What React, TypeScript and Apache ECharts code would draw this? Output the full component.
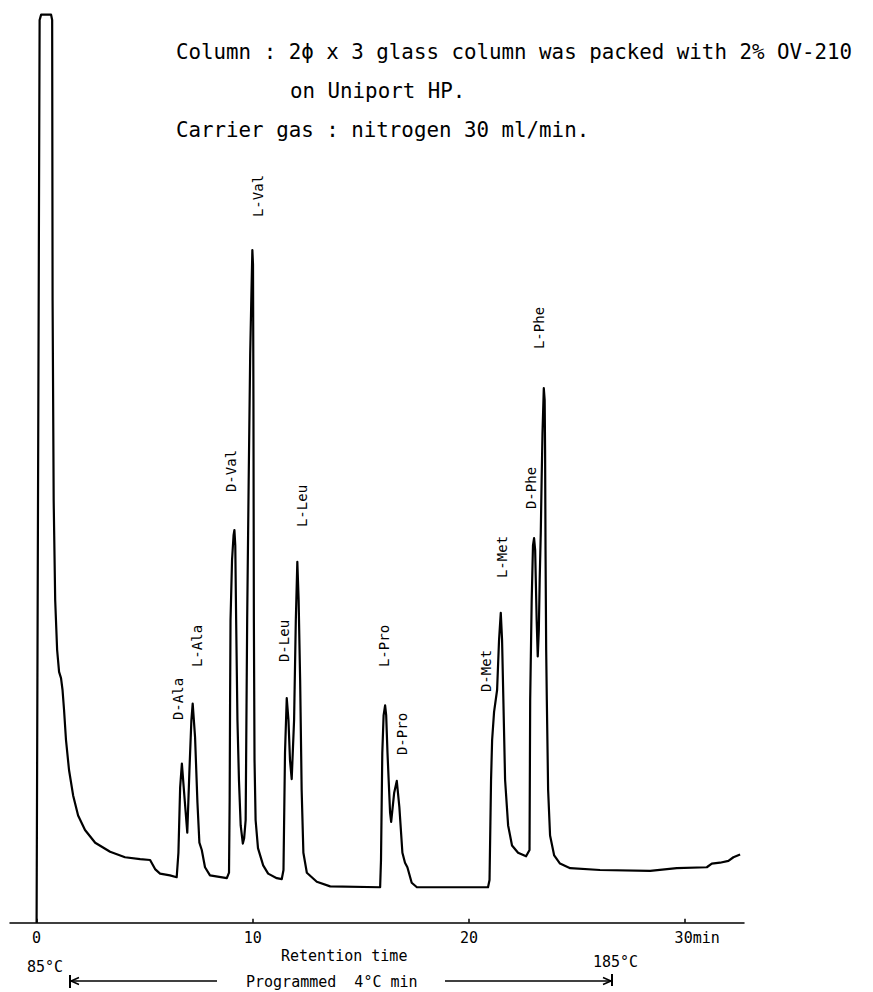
import React, { useEffect, useRef } from "react";
import * as echarts from "echarts";

// Retention time (min) and detector response (% of full scale)
const retentionTime = [
  0.0, 0.14, 0.21, 0.67, 0.72, 0.74, 0.79, 0.86, 0.95, 1.04, 1.13, 1.2, 1.27, 1.36, 1.5, 1.69, 1.92,
  2.24, 2.71, 3.4, 4.09, 4.79, 5.25, 5.48, 5.71, 6.17, 6.48, 6.56, 6.64, 6.72, 6.84, 6.95, 6.97,
  7.07, 7.16, 7.22, 7.33, 7.44, 7.53, 7.64, 7.79, 8.02, 8.8, 8.9, 8.93, 8.95, 8.97, 9.04, 9.11,
  9.15, 9.19, 9.23, 9.29, 9.36, 9.44, 9.54, 9.6, 9.67, 9.74, 9.81, 9.88, 9.94, 9.98, 10.01, 10.03,
  10.05, 10.08, 10.13, 10.24, 10.48, 10.71, 11.11, 11.34, 11.42, 11.49, 11.57, 11.65, 11.72, 11.8,
  11.91, 11.99, 12.06, 12.12, 12.19, 12.26, 12.34, 12.5, 12.96, 13.58, 15.89, 15.93, 15.99, 16.05,
  16.12, 16.17, 16.23, 16.35, 16.4, 16.54, 16.66, 16.78, 16.92, 17.04, 17.15, 17.35, 17.59, 19.13,
  20.88, 20.95, 21.02, 21.07, 21.16, 21.3, 21.39, 21.47, 21.53, 21.59, 21.67, 21.81, 21.99, 22.27,
  22.64, 22.8, 22.83, 22.9, 22.96, 23.01, 23.06, 23.13, 23.18, 23.23, 23.27, 23.32, 23.36, 23.4,
  23.46, 23.5, 23.52, 23.54, 23.57, 23.6, 23.66, 23.75, 23.94, 24.21, 24.68, 26.06, 28.38, 29.61,
  31.0, 31.23, 31.61, 32.0, 32.23, 32.54,
];
const detectorSignal = [
  0, 99.3, 99.9, 99.9, 99.3, 68.5, 46.5, 35.5, 30.0, 27.6, 26.9, 25.6, 23.4, 20.1, 16.8, 14.0, 11.8,
  10.2, 8.8, 7.8, 7.2, 7.0, 6.9, 5.9, 5.4, 5.2, 5.0, 7.7, 14.9, 17.5, 13.8, 10.5, 9.9,
  16.8, 22.3, 24.1, 20.4, 13.2, 8.8, 8.0, 6.1, 5.2, 4.9, 5.5, 13.5, 24.5, 33.3, 39.9, 42.6,
  43.2, 41.5, 33.3, 22.3, 15.7, 10.7, 8.7, 9.3, 11.3, 33.3, 48.7, 62.6, 69.6, 74.0, 72.4, 57.5,
  33.3, 17.9, 11.3, 8.2, 6.3, 5.4, 4.9, 4.8, 5.8, 18.7, 24.7, 22.3, 17.9, 15.8,
  22.3, 33.3, 39.7, 35.5, 26.7, 14.6, 7.7, 5.5, 4.5, 4.0, 3.9, 6.9, 18.7, 22.8,
  23.9, 22.8, 18.7, 12.1, 11.1, 14.3, 15.6, 12.7, 7.7, 6.6, 6.1, 4.4, 3.9, 3.9,
  3.9, 4.7, 15.7, 20.1, 23.2, 25.6, 31.1, 34.1, 31.1, 24.5, 15.7, 10.7, 8.5, 7.7,
  7.3, 8.0, 24.5, 35.5, 41.5, 42.3, 41.0, 33.3, 29.3, 32.2, 37.7, 42.9, 48.7, 53.9,
  58.8, 57.5, 52.0, 41.0, 30.0, 24.5, 14.6, 9.6, 7.4, 6.5, 6.0, 5.8, 5.7, 6.0,
  6.1, 6.5, 6.6, 6.8, 7.2, 7.5,
];

const timeTicks = [0, 10, 20, 30];
const peakNames = ["D-Ala", "L-Ala", "D-Val", "L-Val", "D-Leu", "L-Leu", "L-Pro", "D-Pro", "D-Met", "L-Met", "D-Phe", "L-Phe"];
const headerLines = [
  "Column : 2\u03d5 x 3 glass column was packed with 2% OV-210",
  "on Uniport HP.",
  "Carrier gas : nitrogen 30 ml/min.",
];
const startTemp = "85°C";
const endTemp = "185°C";
const programText = "Programmed  4°C min";
const axisTitle = "Retention time";

// layout (pixel positions of annotation texts)
const peakLabelPos: [number, number][] = [
  [177.5, 699], [197, 646], [231, 471], [258, 196], [284, 641], [302, 506],
  [384, 646], [402, 734], [486, 671], [502, 557], [531, 488], [539, 328],
];
const headerPos: [number, number][] = [[176, 52], [290, 91], [176, 130]];

const MONO = '"DejaVu Sans Mono", monospace';
const INK = "#000";

export default function App() {
  const ref = useRef<HTMLDivElement>(null);
  useEffect(() => {
    if (!ref.current) return;
    const chart = echarts.init(ref.current, undefined, { renderer: "svg" });
    const data = retentionTime.map((t, i) => [t, detectorSignal[i]]);

    const graphic: any[] = [];
    peakNames.forEach((name, i) => {
      graphic.push({
        type: "text",
        x: peakLabelPos[i][0],
        y: peakLabelPos[i][1],
        rotation: Math.PI / 2,
        style: { text: name, fontSize: 14, fontFamily: MONO, fill: INK, textAlign: "center", textVerticalAlign: "middle" },
      });
    });
    headerLines.forEach((line, i) => {
      graphic.push({
        type: "text",
        x: headerPos[i][0],
        y: headerPos[i][1],
        style: { text: line, fontSize: 20.8, fontFamily: MONO, fill: INK, textAlign: "left", textVerticalAlign: "middle" },
      });
    });
    const smallText = (text: string, x: number, y: number) => ({
      type: "text",
      x,
      y,
      style: { text, fontSize: 15, fontFamily: MONO, fill: INK, textAlign: "left", textVerticalAlign: "middle" },
    });
    graphic.push(smallText(axisTitle, 281, 956));
    graphic.push(smallText(startTemp, 27, 967));
    graphic.push(smallText(endTemp, 593, 962));
    graphic.push(smallText(programText, 246, 982));
    const ls = { stroke: INK, lineWidth: 1.5 };
    graphic.push({ type: "line", shape: { x1: 70, y1: 981, x2: 217, y2: 981 }, style: ls });
    graphic.push({ type: "line", shape: { x1: 70, y1: 975, x2: 70, y2: 988 }, style: { stroke: INK, lineWidth: 2 } });
    graphic.push({ type: "polyline", shape: { points: [[79, 977.5], [71, 981], [79, 984.5]] }, style: ls });
    graphic.push({ type: "line", shape: { x1: 445, y1: 981, x2: 612, y2: 981 }, style: ls });
    graphic.push({ type: "line", shape: { x1: 612, y1: 974, x2: 612, y2: 986 }, style: { stroke: INK, lineWidth: 2 } });
    graphic.push({ type: "polyline", shape: { points: [[603, 977.5], [611, 981], [603, 984.5]] }, style: ls });

    chart.setOption({
      animation: false,
      backgroundColor: "#fff",
      grid: { left: 10, right: 129, top: 13.7, bottom: 69.3 },
      xAxis: {
        type: "value",
        min: -1.23,
        max: 32.72,
        splitLine: { show: false },
        axisLine: { lineStyle: { color: INK, width: 1.5 } },
        axisTick: { customValues: timeTicks, inside: true, length: 4, lineStyle: { color: INK, width: 1.5 } },
        axisLabel: {
          customValues: timeTicks,
          margin: 8,
          color: INK,
          fontSize: 15,
          fontFamily: MONO,
          formatter: (v: number) => (v === 30 ? "{m|30min}" : String(v)),
          rich: { m: { fontSize: 15, fontFamily: MONO, color: INK, padding: [0, 0, 0, 24] } },
        },
      },
      yAxis: { type: "value", min: 0, max: 100, show: false },
      series: [
        {
          type: "line",
          data,
          showSymbol: false,
          lineStyle: { color: INK, width: 2.2, join: "round" },
          clip: false,
        },
      ],
      graphic,
    });
    return () => chart.dispose();
  }, []);
  return <div ref={ref} style={{ position: "absolute", left: 0, top: 0, width: 873, height: 992 }} />;
}
